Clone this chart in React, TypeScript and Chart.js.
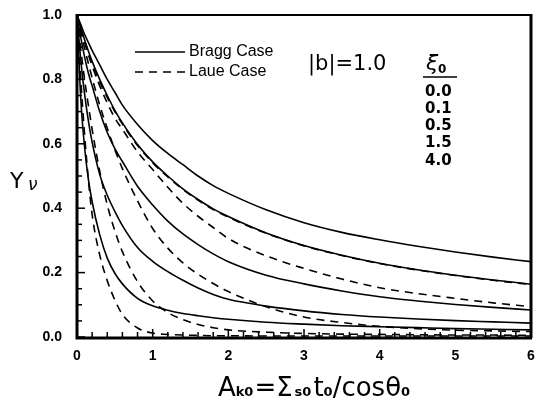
import React, { useEffect, useRef } from "react";
import { Chart, registerables } from "chart.js";
Chart.register(...registerables);

// ---- data ----
const xs = [0, 0.05, 0.1, 0.15, 0.2, 0.3, 0.4, 0.5, 0.6, 0.8, 1.0, 1.2, 1.4, 1.6, 1.8, 2.0, 2.5, 3.0, 3.5, 4.0, 4.5, 5.0, 5.5, 6.0];

const bragg1 = [1, 0.97, 0.94, 0.915, 0.89, 0.845, 0.8, 0.76, 0.72, 0.66, 0.61, 0.57, 0.535, 0.5, 0.47, 0.446, 0.395, 0.355, 0.325, 0.302, 0.282, 0.264, 0.248, 0.234];
const bragg2 = [1, 0.96, 0.923, 0.888, 0.856, 0.8, 0.75, 0.704, 0.665, 0.598, 0.544, 0.5, 0.46, 0.427, 0.398, 0.374, 0.323, 0.284, 0.254, 0.229, 0.209, 0.192, 0.177, 0.164];
const bragg3 = [1, 0.93, 0.87, 0.82, 0.78, 0.7, 0.635, 0.585, 0.545, 0.468, 0.41, 0.36, 0.32, 0.287, 0.258, 0.234, 0.192, 0.165, 0.143, 0.125, 0.112, 0.101, 0.092, 0.084];
const bragg4 = [1, 0.86, 0.755, 0.672, 0.605, 0.505, 0.44, 0.39, 0.346, 0.278, 0.235, 0.203, 0.176, 0.152, 0.132, 0.117, 0.096, 0.081, 0.07, 0.062, 0.056, 0.051, 0.047, 0.043];
const bragg5 = [1, 0.74, 0.59, 0.49, 0.42, 0.318, 0.245, 0.198, 0.165, 0.12, 0.097, 0.083, 0.073, 0.066, 0.06, 0.055, 0.046, 0.04, 0.035, 0.032, 0.029, 0.026, 0.024, 0.022];

const laue1 = [1, 0.958, 0.92, 0.884, 0.85, 0.793, 0.744, 0.7, 0.661, 0.595, 0.541, 0.497, 0.458, 0.425, 0.396, 0.372, 0.322, 0.283, 0.253, 0.228, 0.208, 0.191, 0.176, 0.163];
const laue2 = [1, 0.955, 0.915, 0.877, 0.842, 0.78, 0.727, 0.68, 0.645, 0.575, 0.52, 0.465, 0.415, 0.375, 0.34, 0.306, 0.252, 0.213, 0.18, 0.153, 0.135, 0.12, 0.106, 0.094];
const laue3 = [1, 0.947, 0.897, 0.85, 0.805, 0.72, 0.648, 0.582, 0.523, 0.423, 0.337, 0.276, 0.23, 0.195, 0.166, 0.141, 0.094, 0.062, 0.045, 0.033, 0.026, 0.021, 0.019, 0.017];
const laue4 = [1, 0.895, 0.8, 0.72, 0.645, 0.515, 0.41, 0.33, 0.265, 0.172, 0.112, 0.076, 0.054, 0.039, 0.029, 0.022, 0.015, 0.011, 0.009, 0.008, 0.007, 0.006, 0.006, 0.005];
const laue5 = [1, 0.8, 0.63, 0.49, 0.38, 0.255, 0.175, 0.115, 0.07, 0.028, 0.012, 0.008, 0.006, 0.005, 0.004, 0.004, 0.003, 0.003, 0.003, 0.003, 0.003, 0.003, 0.003, 0.003];

const xTickLabels = ["0", "1", "2", "3", "4", "5", "6"];
const yTickLabels = ["0.0", "0.2", "0.4", "0.6", "0.8", "1.0"];
const xiValues = ["0.0", "0.1", "0.5", "1.5", "4.0"];
const legendLabels = ["Bragg Case", "Laue Case"];
const bLabel = "|b|=1.0";

const braggSeries = [bragg1, bragg2, bragg3, bragg4, bragg5];
const laueSeries = [laue1, laue2, laue3, laue4, laue5];

const DASH = [8, 6];

function toPoints(ys: number[]) {
  return xs.map((x, i) => ({ x, y: ys[i] }));
}

function drawRuns(ctx: CanvasRenderingContext2D, runs: { t: string; f: string; dy: number; gap?: number }[], cx: number, base: number) {
  let total = 0;
  const ws = runs.map((r) => {
    ctx.font = r.f;
    const w = ctx.measureText(r.t).width + (r.gap || 0);
    total += w;
    return w;
  });
  let x = cx - total / 2;
  ctx.textAlign = "left";
  ctx.textBaseline = "alphabetic";
  runs.forEach((r, i) => {
    ctx.font = r.f;
    ctx.fillText(r.t, x, base + r.dy);
    x += ws[i];
  });
}

const decor = {
  id: "decor",
  afterDraw(chart: any) {
    const ctx: CanvasRenderingContext2D = chart.ctx;
    const { left, right, top, bottom } = chart.chartArea;
    const xs_ = chart.scales.x;
    const ys_ = chart.scales.y;
    ctx.save();
    ctx.strokeStyle = "#000";
    ctx.fillStyle = "#000";
    ctx.setLineDash([]);
    // frame
    ctx.lineWidth = 2;
    ctx.beginPath();
    ctx.moveTo(left, top);
    ctx.lineTo(right, top);
    ctx.stroke();
    ctx.lineWidth = 3;
    ctx.beginPath();
    ctx.moveTo(right, top - 1);
    ctx.lineTo(right, bottom + 1);
    ctx.stroke();
    ctx.beginPath();
    ctx.moveTo(left, top - 1);
    ctx.lineTo(left, bottom + 1);
    ctx.lineTo(right + 1, bottom + 1);
    ctx.stroke();
    // ticks
    ctx.lineWidth = 1.5;
    for (let i = 0; i <= 30; i++) {
      const v = i * 0.2;
      const px = xs_.getPixelForValue(v);
      const len = i % 5 === 0 ? 8 : 5;
      ctx.beginPath();
      ctx.moveTo(px, bottom);
      ctx.lineTo(px, bottom - len);
      ctx.stroke();
    }
    for (let i = 0; i <= 20; i++) {
      const v = i * 0.05;
      const py = ys_.getPixelForValue(v);
      const len = i % 4 === 0 ? 8 : 5;
      ctx.beginPath();
      ctx.moveTo(left, py);
      ctx.lineTo(left + len, py);
      ctx.stroke();
    }
    // legend
    const lx0 = left + 58;
    const lx1 = left + 108;
    ctx.lineWidth = 1.5;
    ctx.beginPath();
    ctx.moveTo(lx0, top + 37);
    ctx.lineTo(lx1, top + 37);
    ctx.stroke();
    ctx.setLineDash(DASH);
    ctx.beginPath();
    ctx.moveTo(lx0, top + 57);
    ctx.lineTo(lx1 + 2, top + 57);
    ctx.stroke();
    ctx.setLineDash([]);
    ctx.font = '16px "Liberation Sans"';
    ctx.textAlign = "left";
    ctx.textBaseline = "middle";
    ctx.fillText(legendLabels[0], lx1 + 4, top + 37);
    ctx.fillText(legendLabels[1], lx1 + 4, top + 57);
    ctx.font = '21px "DejaVu Sans"';
    ctx.fillText(bLabel, left + 231, top + 50);
    // xi0 header
    ctx.font = 'italic 22px "DejaVu Sans"';
    ctx.textBaseline = "alphabetic";
    ctx.fillText("ξ", left + 349, top + 55);
    ctx.font = 'bold 12px "DejaVu Sans"';
    ctx.fillText("0", left + 361, top + 58);
    ctx.lineWidth = 1.5;
    ctx.beginPath();
    ctx.moveTo(left + 346, top + 62);
    ctx.lineTo(left + 380, top + 62);
    ctx.stroke();
    ctx.font = 'bold 15px "DejaVu Sans"';
    ctx.textBaseline = "middle";
    xiValues.forEach((t, i) => {
      ctx.fillText(t, left + 348, top + 77 + i * 17.2);
    });
    // y title
    ctx.textBaseline = "alphabetic";
    ctx.font = '22px "DejaVu Sans"';
    ctx.fillText("Y", 10, 188);
    ctx.font = 'italic 17px "DejaVu Sans"';
    ctx.fillText("ν", 28, 190);
    // x title
    const big = '26px "DejaVu Sans"';
    const sub = 'bold 13px "DejaVu Sans"';
    drawRuns(
      ctx,
      [
        { t: "A", f: big, dy: 0 },
        { t: "k0", f: sub, dy: 0, gap: 1 },
        { t: "=Σ", f: big, dy: 0, gap: 2 },
        { t: "s0", f: sub, dy: 0, gap: 2 },
        { t: "t", f: big, dy: 0 },
        { t: "0", f: sub, dy: 0 },
        { t: "/cosθ", f: big, dy: 0 },
        { t: "0", f: sub, dy: 0 },
      ],
      314,
      396
    );
    ctx.restore();
  },
};

export default function App() {
  const ref = useRef<HTMLCanvasElement>(null);
  useEffect(() => {
    if (!ref.current) return;
    const datasets: any[] = [];
    braggSeries.forEach((s, i) =>
      datasets.push({
        label: `Bragg Case ${i + 1}`,
        data: toPoints(s),
        borderColor: "#000",
        borderWidth: 1.6,
        pointRadius: 0,
        fill: false,
        cubicInterpolationMode: "monotone",
      })
    );
    laueSeries.forEach((s, i) =>
      datasets.push({
        label: `Laue Case ${i + 1}`,
        data: toPoints(s),
        borderColor: "#000",
        borderWidth: 1.6,
        borderDash: DASH,
        pointRadius: 0,
        fill: false,
        cubicInterpolationMode: "monotone",
      })
    );
    const chart = new Chart(ref.current, {
      type: "line",
      data: { datasets },
      options: {
        responsive: false,
        animation: false,
        devicePixelRatio: 1,
        layout: { padding: { left: 0, top: 15, right: 4, bottom: 0 } },
        plugins: { legend: { display: false }, tooltip: { enabled: false } },
        scales: {
          x: {
            type: "linear",
            min: 0,
            max: 6,
            grid: { display: false, drawTicks: true, tickLength: 11, tickColor: "rgba(0,0,0,0)" },
            border: { display: false },
            afterFit: (s: any) => {
              s.height = 65;
            },
            afterBuildTicks: (s: any) => {
              s.ticks = xTickLabels.map((t) => ({ value: Number(t) }));
            },
            ticks: {
              padding: 0,
              color: "#000",
              font: { family: "Liberation Sans", weight: "bold", size: 14 },
              callback: (v: any) => xTickLabels[Math.round(Number(v))],
            },
          },
          y: {
            type: "linear",
            min: 0,
            max: 1,
            grid: { display: false, drawTicks: true, tickLength: 15, tickColor: "rgba(0,0,0,0)" },
            border: { display: false },
            afterFit: (s: any) => {
              s.width = 77;
            },
            afterBuildTicks: (s: any) => {
              s.ticks = yTickLabels.map((t) => ({ value: Number(t) }));
            },
            ticks: {
              padding: 0,
              color: "#000",
              font: { family: "Liberation Sans", weight: "bold", size: 14 },
              callback: (v: any) => yTickLabels[Math.round(Number(v) * 5)],
            },
          },
        },
      },
      plugins: [decor],
    } as any);
    return () => chart.destroy();
  }, []);
  return (
    <div style={{ position: "fixed", left: 0, top: 0, width: 535, height: 402, background: "#fff" }}>
      <canvas ref={ref} width={535} height={402} />
    </div>
  );
}
